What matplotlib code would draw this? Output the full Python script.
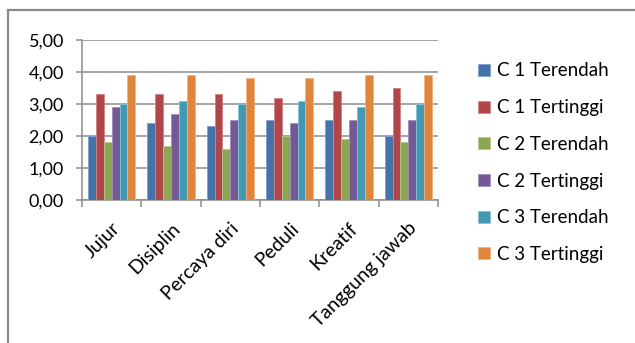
import numpy as np
import matplotlib
matplotlib.use('Agg')
import matplotlib.pyplot as plt
from matplotlib.lines import Line2D

plt.rcParams['font.family'] = ['Lato', 'DejaVu Sans']

categories = ['Jujur', 'Disiplin', 'Percaya diri', 'Peduli', 'Kreatif', 'Tanggung jawab']
series_names = ['C 1 Terendah', 'C 1 Tertinggi', 'C 2 Terendah',
                'C 2 Tertinggi', 'C 3 Terendah', 'C 3 Tertinggi']
c1_low = [2.0, 2.4, 2.3, 2.5, 2.5, 2.0]
c1_high = [3.3, 3.3, 3.3, 3.2, 3.4, 3.5]
c2_low = [1.8, 1.7, 1.6, 2.0, 1.9, 1.8]
c2_high = [2.9, 2.7, 2.5, 2.4, 2.5, 2.5]
c3_low = [3.0, 3.1, 3.0, 3.1, 2.9, 3.0]
c3_high = [3.9, 3.9, 3.8, 3.8, 3.9, 3.9]
yticks = [0, 1, 2, 3, 4, 5]

series = [c1_low, c1_high, c2_low, c2_high, c3_low, c3_high]
colors = ['#4672AA', '#B0454A', '#8CA652', '#735A97', '#4299B4', '#E0853C']
edges = ['#7f9fcc', '#d08488', '#b4c98c', '#a08dbb', '#86c2d6', '#f2b283']

fig = plt.figure(figsize=(6.35, 3.43), dpi=100)

# outer chart frame (left and top edges only)
fig.add_artist(Line2D([8/635, 8/635], [0, 1 - 10/343], transform=fig.transFigure,
                      color='#8a8a8a', lw=1.6))
fig.add_artist(Line2D([8/635, 1], [1 - 10/343, 1 - 10/343], transform=fig.transFigure,
                      color='#8a8a8a', lw=1.6))

ax = fig.add_axes([82/635, 143/343, 356/635, 160/343])

n = len(series)
x = np.arange(len(categories))
width = 0.8 / n
for i, (vals, col, ec) in enumerate(zip(series, colors, edges)):
    offs = (i - (n - 1) / 2) * width
    ax.bar(x + offs, vals, width, color=col, edgecolor=ec, linewidth=0.6,
           label=series_names[i], zorder=3)

ax.set_xlim(-0.5, len(categories) - 0.5)
ax.set_ylim(0, 5)
ax.set_yticks(yticks)
ax.set_yticklabels([f'{v:.2f}'.replace('.', ',') for v in yticks], fontsize=13)
ax.yaxis.grid(True, color='#8c8c8c', linewidth=1.1, zorder=0)
ax.tick_params(axis='y', length=4, color='#8c8c8c', width=1.1, pad=9)

# category ticks sit between groups; labels at group centres
ax.set_xticks(np.arange(len(categories) + 1) - 0.5)
ax.set_xticklabels([])
ax.set_xticks(x, minor=True)
ax.set_xticklabels(categories, minor=True, rotation=45, ha='right', va='top',
                   rotation_mode='anchor', fontsize=14)
ax.tick_params(axis='x', which='major', length=5, color='#8c8c8c', width=1.1)
ax.tick_params(axis='x', which='minor', length=0, pad=14)

for s in ['top', 'right']:
    ax.spines[s].set_visible(False)
for s in ['left', 'bottom']:
    ax.spines[s].set_color('#8c8c8c')
    ax.spines[s].set_linewidth(1.1)

handles, labels = ax.get_legend_handles_labels()
fig.legend(handles, labels, loc='upper left', bbox_to_anchor=(471/635, 1 - 55/343),
           frameon=False, fontsize=13.5, handlelength=0.6, handleheight=0.6,
           handletextpad=0.4, labelspacing=1.05, borderaxespad=0)

plt.savefig('out.png', dpi=100)
